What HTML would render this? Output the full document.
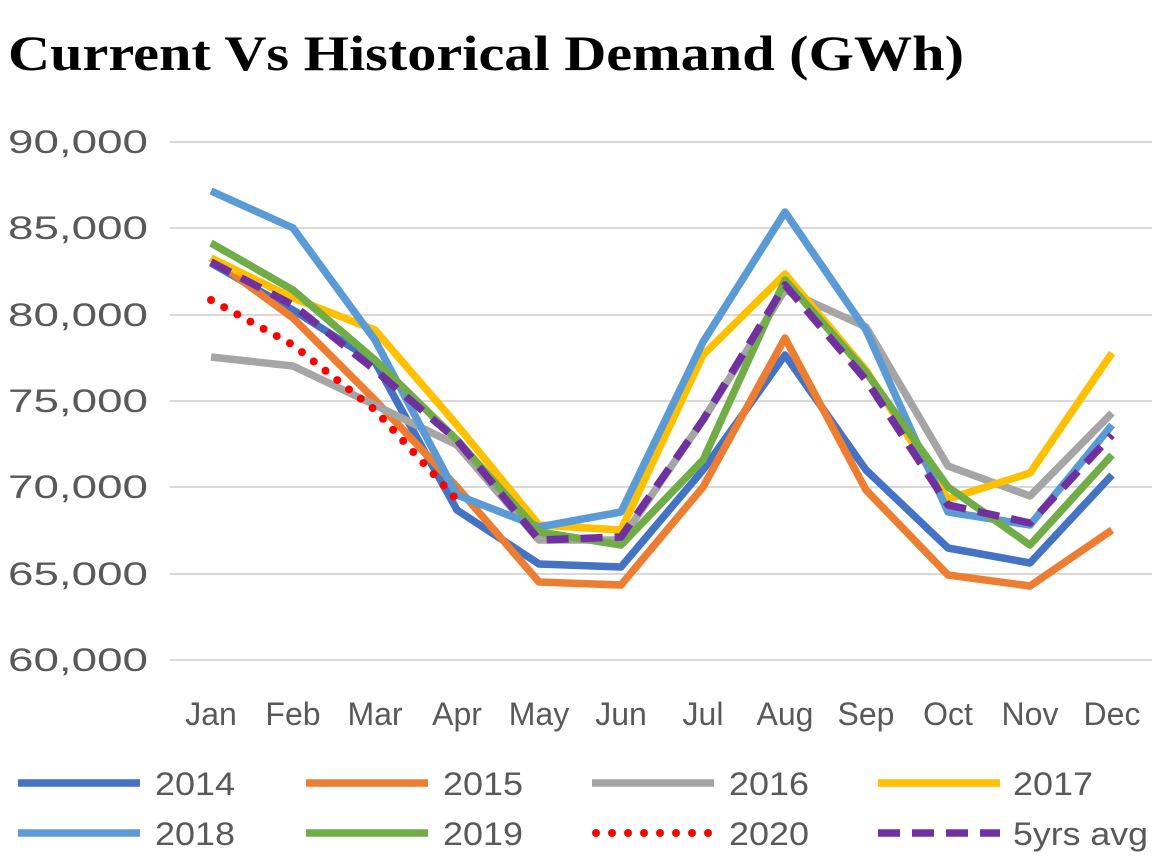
<!DOCTYPE html><html><head><style>body{margin:0;background:#fff}svg{display:block}</style></head><body>
<svg width="1164" height="862" xmlns="http://www.w3.org/2000/svg" font-family="'Liberation Sans',sans-serif">
<text x="8" y="70" font-family="'Liberation Serif',serif" font-weight="bold" font-size="50" fill="#000" textLength="956" lengthAdjust="spacingAndGlyphs">Current Vs Historical Demand (GWh)</text>
<g stroke="#d9d9d9" stroke-width="2">
<line x1="170" x2="1152" y1="142" y2="142"/><line x1="170" x2="1152" y1="228" y2="228"/><line x1="170" x2="1152" y1="315" y2="315"/><line x1="170" x2="1152" y1="401" y2="401"/><line x1="170" x2="1152" y1="487" y2="487"/><line x1="170" x2="1152" y1="574" y2="574"/><line x1="170" x2="1152" y1="660" y2="660"/></g>
<g font-size="32" fill="#595959" lengthAdjust="spacingAndGlyphs">
<text x="8" y="153" textLength="140" lengthAdjust="spacingAndGlyphs">90,000</text><text x="8" y="239" textLength="140" lengthAdjust="spacingAndGlyphs">85,000</text><text x="8" y="326" textLength="140" lengthAdjust="spacingAndGlyphs">80,000</text><text x="8" y="412" textLength="140" lengthAdjust="spacingAndGlyphs">75,000</text><text x="8" y="498" textLength="140" lengthAdjust="spacingAndGlyphs">70,000</text><text x="8" y="585" textLength="140" lengthAdjust="spacingAndGlyphs">65,000</text><text x="8" y="671" textLength="140" lengthAdjust="spacingAndGlyphs">60,000</text></g>
<g font-size="32" fill="#595959" text-anchor="middle">
<text x="211" y="725">Jan</text><text x="293" y="725">Feb</text><text x="375" y="725">Mar</text><text x="457" y="725">Apr</text><text x="539" y="725">May</text><text x="621" y="725">Jun</text><text x="703" y="725">Jul</text><text x="785" y="725">Aug</text><text x="866" y="725">Sep</text><text x="948" y="725">Oct</text><text x="1030" y="725">Nov</text><text x="1112" y="725">Dec</text></g>
<g fill="none" stroke-width="7.5" stroke-linejoin="round">
<polyline stroke="#4472C4" points="211,263 293,310 375,362 457,510 539,564 621,567 703,470 785,355 866,470 948,548 1030,563 1112,475"/>
<polyline stroke="#ED7D31" points="211,258 293,318 375,400 457,487 539,582 621,585 703,487 785,338 866,490 948,575 1030,586 1112,530"/>
<polyline stroke="#A5A5A5" points="211,357 293,366 375,405 457,445 539,540 621,540 703,420 785,290 866,327 948,466 1030,496 1112,413"/>
<polyline stroke="#FFC000" points="211,258 293,298 375,330 457,425 539,525 621,530 703,355 785,274 866,370 948,499 1030,473 1112,353"/>
<polyline stroke="#5B9BD5" points="211,191 293,228 375,340 457,495 539,527 621,512 703,342 785,212 866,330 948,512 1030,525 1112,425"/>
<polyline stroke="#70AD47" points="211,243 293,290 375,360 457,440 539,532 621,545 703,460 785,280 866,372 948,487 1030,545 1112,455"/>
<polyline stroke="#FF0000" stroke-dasharray="0 15" stroke-linecap="round" stroke-width="8" points="211,300 293,345 375,410 457,500"/>
<polyline stroke="#7030A0" stroke-dasharray="22 12" points="211,262 293,305 375,370 457,440 539,540 621,537 703,420 785,285 866,380 948,505 1030,523 1112,435"/>
</g>
<g stroke-width="7.5">
<line x1="18" x2="140" y1="783" y2="783" stroke="#4472C4"/><line x1="306" x2="428" y1="783" y2="783" stroke="#ED7D31"/><line x1="592" x2="714" y1="783" y2="783" stroke="#A5A5A5"/><line x1="878" x2="1000" y1="783" y2="783" stroke="#FFC000"/>
<line x1="18" x2="140" y1="833" y2="833" stroke="#5B9BD5"/><line x1="306" x2="428" y1="833" y2="833" stroke="#70AD47"/>
<line x1="596" x2="714" y1="833" y2="833" stroke="#FF0000" stroke-width="8" stroke-dasharray="0 16" stroke-linecap="round"/>
<line x1="878" x2="1000" y1="833" y2="833" stroke="#7030A0" stroke-dasharray="22 12"/></g>
<g font-size="32" fill="#595959">
<text x="155" y="795" textLength="80" lengthAdjust="spacingAndGlyphs">2014</text><text x="443" y="795" textLength="80" lengthAdjust="spacingAndGlyphs">2015</text><text x="729" y="795" textLength="80" lengthAdjust="spacingAndGlyphs">2016</text><text x="1013" y="795" textLength="80" lengthAdjust="spacingAndGlyphs">2017</text>
<text x="155" y="845" textLength="80" lengthAdjust="spacingAndGlyphs">2018</text><text x="443" y="845" textLength="80" lengthAdjust="spacingAndGlyphs">2019</text><text x="729" y="845" textLength="80" lengthAdjust="spacingAndGlyphs">2020</text><text x="1013" y="845" textLength="135" lengthAdjust="spacingAndGlyphs">5yrs avg</text></g>
</svg></body></html>
